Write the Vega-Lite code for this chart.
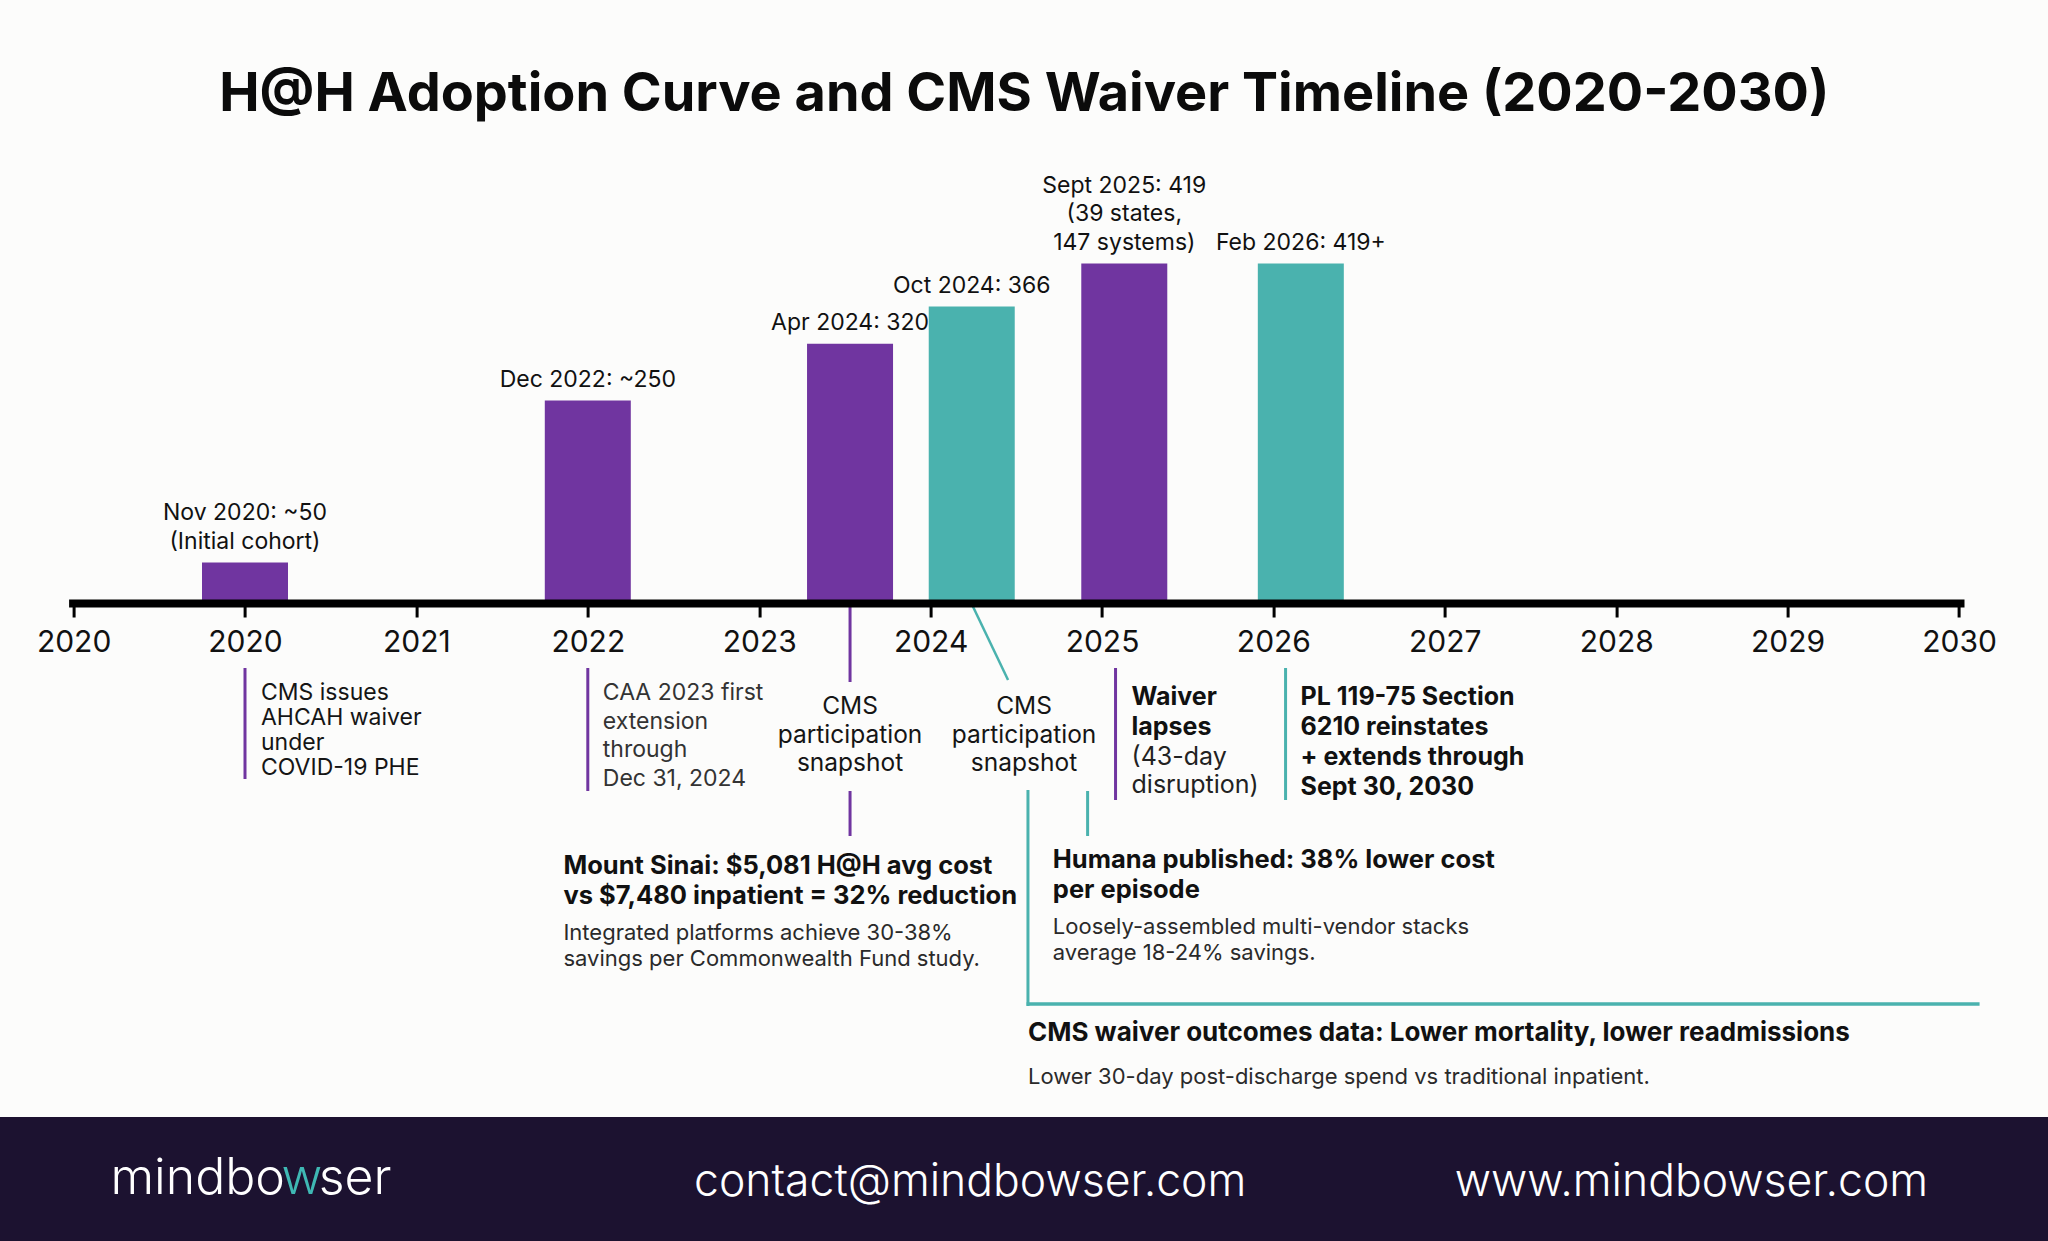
{
  "$schema": "https://vega.github.io/schema/vega-lite/v6.json",
  "width": 1895.4,
  "height": 445.5,
  "autosize": {"type": "none"},
  "padding": {"left": 68.6, "right": 84, "top": 157.5, "bottom": 638},
  "background": "#fcfcfb",
  "title": {
    "text": "H@H Adoption Curve and CMS Waiver Timeline (2020-2030)",
    "font": "Inter",
    "fontSize": 54,
    "fontWeight": 700,
    "color": "#0b0b0b",
    "anchor": "middle",
    "frame": "group",
    "baseline": "alphabetic",
    "offset": -7,
    "dx": 8
  },
  "config": {
    "view": {"stroke": null},
    "text": {"font": "Inter", "lineBreak": "\n"},
    "axisY": {"disable": true}
  },
  "layer": [
    {
      "description": "brand footer band",
      "data": {"values": [{"band": "footer"}]},
      "mark": {"type": "rect", "color": "#1c1230", "yOffset": 514, "y2Offset": 640},
      "encoding": {
        "x": {"datum": 2018.4, "type": "quantitative"},
        "x2": {"datum": 2030.7},
        "y": {"datum": 0, "type": "quantitative"},
        "y2": {"datum": 0}
      }
    },
    {
      "description": "hospital-at-home participation counts",
      "data": {"name": "counts", "values": [
        {"when": "Nov 2020", "pos": 2020.0, "hospitals": 50, "group": "primary", "label": "Nov 2020: ~50\n(Initial cohort)"},
        {"when": "Dec 2022", "pos": 2022.0, "hospitals": 250, "group": "primary", "label": "Dec 2022: ~250"},
        {"when": "Apr 2024", "pos": 2023.53, "hospitals": 320, "group": "primary", "label": "Apr 2024: 320"},
        {"when": "Oct 2024", "pos": 2024.24, "hospitals": 366, "group": "secondary", "label": "Oct 2024: 366"},
        {"when": "Sept 2025", "pos": 2025.13, "hospitals": 419, "group": "primary", "label": "Sept 2025: 419\n(39 states,\n147 systems)"},
        {"when": "Feb 2026", "pos": 2026.16, "hospitals": 419, "group": "secondary", "label": "Feb 2026: 419+"}
      ]},
      "layer": [
        {
          "mark": {"type": "bar", "size": 86},
          "encoding": {
            "x": {
              "field": "pos",
              "type": "quantitative",
              "scale": {"domain": [2019, 2030], "nice": false, "zero": false},
              "axis": {
                "title": null,
                "values": [2019, 2020, 2021, 2022, 2023, 2024, 2025, 2026, 2027, 2028, 2029, 2030],
                "format": "d",
                "labelExpr": "datum.value == 2019 ? '2020' : datum.label",
                "domainColor": "#000000",
                "domainWidth": 8,
                "domainCap": "butt",
                "tickColor": "#000000",
                "tickWidth": 3,
                "tickSize": 14,
                "labelFont": "Inter",
                "labelFontSize": 30,
                "labelColor": "#111111",
                "labelPadding": 10,
                "labelFlush": false,
                "labelOverlap": false,
                "labelBound": false,
                "grid": false,
                "zindex": 1
              }
            },
            "y": {
              "field": "hospitals",
              "type": "quantitative",
              "scale": {"domain": [0, 550], "nice": false},
              "axis": null
            },
            "color": {
              "field": "group",
              "type": "nominal",
              "scale": {"domain": ["primary", "secondary"], "range": ["#7035a0", "#4ab2ae"]},
              "legend": null
            }
          }
        },
        {
          "transform": [{"filter": "length(split(datum.label, '\\n')) == 1"}],
          "mark": {"type": "text", "align": "center", "baseline": "bottom", "dy": -9, "fontSize": 23, "lineHeight": 28.5, "color": "#111111"},
          "encoding": {
            "x": {"field": "pos", "type": "quantitative"},
            "y": {"field": "hospitals", "type": "quantitative"},
            "text": {"field": "label"}
          }
        },
        {
          "transform": [{"filter": "length(split(datum.label, '\\n')) == 2"}],
          "mark": {"type": "text", "align": "center", "baseline": "bottom", "dy": -38, "fontSize": 23, "lineHeight": 29, "color": "#111111"},
          "encoding": {
            "x": {"field": "pos", "type": "quantitative"},
            "y": {"field": "hospitals", "type": "quantitative"},
            "text": {"field": "label"}
          }
        },
        {
          "transform": [{"filter": "length(split(datum.label, '\\n')) == 3"}],
          "mark": {"type": "text", "align": "center", "baseline": "bottom", "dy": -66, "fontSize": 23, "lineHeight": 28.5, "color": "#111111"},
          "encoding": {
            "x": {"field": "pos", "type": "quantitative"},
            "y": {"field": "hospitals", "type": "quantitative"},
            "text": {"field": "label"}
          }
        }
      ]
    },
    {
      "description": "connector: 2020 waiver note",
      "data": {"values": [{"pos": 2020.0, "group": "primary"}]},
      "mark": {"type": "rule", "strokeWidth": 3, "yOffset": 65, "y2Offset": 176},
      "encoding": {"x": {"field": "pos", "type": "quantitative"}, "y": {"datum": 0, "type": "quantitative"}, "y2": {"datum": 0}, "color": {"field": "group", "type": "nominal"}}
    },
    {
      "description": "connector: CAA 2023 note",
      "data": {"values": [{"pos": 2022.0, "group": "primary"}]},
      "mark": {"type": "rule", "strokeWidth": 3, "yOffset": 65, "y2Offset": 188},
      "encoding": {"x": {"field": "pos", "type": "quantitative"}, "y": {"datum": 0, "type": "quantitative"}, "y2": {"datum": 0}, "color": {"field": "group", "type": "nominal"}}
    },
    {
      "description": "connectors: 2025 lapse and 2026 reinstatement notes",
      "data": {"values": [{"pos": 2025.079, "group": "primary"}, {"pos": 2026.071, "group": "secondary"}]},
      "mark": {"type": "rule", "strokeWidth": 3, "yOffset": 65, "y2Offset": 197},
      "encoding": {"x": {"field": "pos", "type": "quantitative"}, "y": {"datum": 0, "type": "quantitative"}, "y2": {"datum": 0}, "color": {"field": "group", "type": "nominal"}}
    },
    {
      "description": "connector: Apr 2024 bar to snapshot note",
      "data": {"values": [{"pos": 2023.53, "group": "primary"}]},
      "mark": {"type": "rule", "strokeWidth": 3, "yOffset": 4, "y2Offset": 79},
      "encoding": {"x": {"field": "pos", "type": "quantitative"}, "y": {"datum": 0, "type": "quantitative"}, "y2": {"datum": 0}, "color": {"field": "group", "type": "nominal"}}
    },
    {
      "description": "connector: Oct 2024 bar to snapshot note",
      "data": {"values": [{"pos": 2024.24, "pos2": 2024.452, "group": "secondary"}]},
      "mark": {"type": "rule", "strokeWidth": 2.5, "yOffset": 1, "y2Offset": 77},
      "encoding": {"x": {"field": "pos", "type": "quantitative"}, "x2": {"field": "pos2"}, "y": {"datum": 0, "type": "quantitative"}, "y2": {"datum": 0}, "color": {"field": "group", "type": "nominal"}}
    },
    {
      "description": "connectors: snapshots to cost findings",
      "data": {"values": [{"pos": 2023.53, "group": "primary"}, {"pos": 2024.916, "group": "secondary"}]},
      "mark": {"type": "rule", "strokeWidth": 3, "yOffset": 188, "y2Offset": 233},
      "encoding": {"x": {"field": "pos", "type": "quantitative"}, "y": {"datum": 0, "type": "quantitative"}, "y2": {"datum": 0}, "color": {"field": "group", "type": "nominal"}}
    },
    {
      "description": "bracket: outcomes data span",
      "data": {"values": [{"pos": 2024.568, "group": "secondary"}]},
      "mark": {"type": "rule", "strokeWidth": 3, "yOffset": 187, "y2Offset": 403},
      "encoding": {"x": {"field": "pos", "type": "quantitative"}, "y": {"datum": 0, "type": "quantitative"}, "y2": {"datum": 0}, "color": {"field": "group", "type": "nominal"}}
    },
    {
      "description": "bracket: outcomes data baseline",
      "data": {"values": [{"pos": 2024.56, "pos2": 2030.12, "group": "secondary"}]},
      "mark": {"type": "rule", "strokeWidth": 3.5, "yOffset": 401},
      "encoding": {"x": {"field": "pos", "type": "quantitative"}, "x2": {"field": "pos2"}, "y": {"datum": 0, "type": "quantitative"}, "color": {"field": "group", "type": "nominal"}}
    },
    {
      "description": "note: 2020 waiver",
      "data": {"values": [{"pos": 2020.0, "note": "CMS issues\nAHCAH waiver\nunder\nCOVID-19 PHE"}]},
      "mark": {"type": "text", "align": "left", "baseline": "alphabetic", "dx": 16, "dy": 97, "fontSize": 23, "lineHeight": 25, "color": "#151515"},
      "encoding": {"x": {"field": "pos", "type": "quantitative"}, "y": {"datum": 0, "type": "quantitative"}, "text": {"field": "note"}}
    },
    {
      "description": "note: CAA 2023",
      "data": {"values": [{"pos": 2022.0, "note": "CAA 2023 first\nextension\nthrough\nDec 31, 2024"}]},
      "mark": {"type": "text", "align": "left", "baseline": "alphabetic", "dx": 15, "dy": 97, "fontSize": 23, "lineHeight": 28.7, "color": "#333333"},
      "encoding": {"x": {"field": "pos", "type": "quantitative"}, "y": {"datum": 0, "type": "quantitative"}, "text": {"field": "note"}}
    },
    {
      "description": "notes: participation snapshots",
      "data": {"values": [{"pos": 2023.53, "note": "CMS\nparticipation\nsnapshot"}, {"pos": 2024.545, "note": "CMS\nparticipation\nsnapshot"}]},
      "mark": {"type": "text", "align": "center", "baseline": "alphabetic", "dy": 111, "fontSize": 24.5, "lineHeight": 28.5, "color": "#151515"},
      "encoding": {"x": {"field": "pos", "type": "quantitative"}, "y": {"datum": 0, "type": "quantitative"}, "text": {"field": "note"}}
    },
    {
      "description": "note: waiver lapse headline",
      "data": {"values": [{"pos": 2025.079, "note": "Waiver\nlapses"}]},
      "mark": {"type": "text", "align": "left", "baseline": "alphabetic", "dx": 16, "dy": 102, "fontSize": 25, "fontWeight": 700, "lineHeight": 30, "color": "#111111"},
      "encoding": {"x": {"field": "pos", "type": "quantitative"}, "y": {"datum": 0, "type": "quantitative"}, "text": {"field": "note"}}
    },
    {
      "description": "note: waiver lapse detail",
      "data": {"values": [{"pos": 2025.079, "note": "(43-day\ndisruption)"}]},
      "mark": {"type": "text", "align": "left", "baseline": "alphabetic", "dx": 16, "dy": 162, "fontSize": 25, "lineHeight": 28, "color": "#222222"},
      "encoding": {"x": {"field": "pos", "type": "quantitative"}, "y": {"datum": 0, "type": "quantitative"}, "text": {"field": "note"}}
    },
    {
      "description": "note: PL 119-75 reinstatement",
      "data": {"values": [{"pos": 2026.071, "note": "PL 119-75 Section\n6210 reinstates\n+ extends through\nSept 30, 2030"}]},
      "mark": {"type": "text", "align": "left", "baseline": "alphabetic", "dx": 15, "dy": 102, "fontSize": 25, "fontWeight": 700, "lineHeight": 30, "color": "#111111"},
      "encoding": {"x": {"field": "pos", "type": "quantitative"}, "y": {"datum": 0, "type": "quantitative"}, "text": {"field": "note"}}
    },
    {
      "description": "finding: Mount Sinai",
      "data": {"values": [{"pos": 2021.858, "note": "Mount Sinai: $5,081 H@H avg cost\nvs $7,480 inpatient = 32% reduction"}]},
      "mark": {"type": "text", "align": "left", "baseline": "alphabetic", "dy": 271, "fontSize": 25.5, "fontWeight": 700, "lineHeight": 30, "color": "#111111"},
      "encoding": {"x": {"field": "pos", "type": "quantitative"}, "y": {"datum": 0, "type": "quantitative"}, "text": {"field": "note"}}
    },
    {
      "description": "finding: Mount Sinai detail",
      "data": {"values": [{"pos": 2021.858, "note": "Integrated platforms achieve 30-38%\nsavings per Commonwealth Fund study."}]},
      "mark": {"type": "text", "align": "left", "baseline": "alphabetic", "dy": 337, "fontSize": 22, "lineHeight": 26, "color": "#2a2a2a"},
      "encoding": {"x": {"field": "pos", "type": "quantitative"}, "y": {"datum": 0, "type": "quantitative"}, "text": {"field": "note"}}
    },
    {
      "description": "finding: Humana",
      "data": {"values": [{"pos": 2024.713, "note": "Humana published: 38% lower cost\nper episode"}]},
      "mark": {"type": "text", "align": "left", "baseline": "alphabetic", "dy": 265, "fontSize": 25.5, "fontWeight": 700, "lineHeight": 30, "color": "#111111"},
      "encoding": {"x": {"field": "pos", "type": "quantitative"}, "y": {"datum": 0, "type": "quantitative"}, "text": {"field": "note"}}
    },
    {
      "description": "finding: Humana detail",
      "data": {"values": [{"pos": 2024.713, "note": "Loosely-assembled multi-vendor stacks\naverage 18-24% savings."}]},
      "mark": {"type": "text", "align": "left", "baseline": "alphabetic", "dy": 331, "fontSize": 22, "lineHeight": 26, "color": "#2a2a2a"},
      "encoding": {"x": {"field": "pos", "type": "quantitative"}, "y": {"datum": 0, "type": "quantitative"}, "text": {"field": "note"}}
    },
    {
      "description": "finding: CMS outcomes",
      "data": {"values": [{"pos": 2024.568, "note": "CMS waiver outcomes data: Lower mortality, lower readmissions"}]},
      "mark": {"type": "text", "align": "left", "baseline": "alphabetic", "dy": 438, "fontSize": 26, "fontWeight": 700, "color": "#111111"},
      "encoding": {"x": {"field": "pos", "type": "quantitative"}, "y": {"datum": 0, "type": "quantitative"}, "text": {"field": "note"}}
    },
    {
      "description": "finding: CMS outcomes detail",
      "data": {"values": [{"pos": 2024.568, "note": "Lower 30-day post-discharge spend vs traditional inpatient."}]},
      "mark": {"type": "text", "align": "left", "baseline": "alphabetic", "dy": 481, "fontSize": 22, "color": "#2a2a2a"},
      "encoding": {"x": {"field": "pos", "type": "quantitative"}, "y": {"datum": 0, "type": "quantitative"}, "text": {"field": "note"}}
    },
    {
      "description": "footer contact details",
      "data": {"values": [{"pos": 2024.231, "item": "contact@mindbowser.com"}, {"pos": 2028.439, "item": "www.mindbowser.com"}]},
      "mark": {"type": "text", "align": "center", "baseline": "alphabetic", "dy": 593, "fontSize": 44.5, "fontWeight": 300, "color": "#ffffff"},
      "encoding": {"x": {"field": "pos", "type": "quantitative"}, "y": {"datum": 0, "type": "quantitative"}, "text": {"field": "item"}}
    },
    {
      "description": "footer wordmark, first part",
      "data": {"values": [{"pos": 2020.2333, "item": "mindbo"}]},
      "mark": {"type": "text", "align": "right", "baseline": "alphabetic", "dy": 591, "fontSize": 50, "fontWeight": 300, "color": "#ffffff"},
      "encoding": {"x": {"field": "pos", "type": "quantitative"}, "y": {"datum": 0, "type": "quantitative"}, "text": {"field": "item"}}
    },
    {
      "description": "footer wordmark, accent letter",
      "data": {"values": [{"pos": 2020.3319, "item": "w"}]},
      "mark": {"type": "text", "align": "center", "baseline": "alphabetic", "dy": 591, "fontSize": 50, "fontWeight": 300, "color": "#3fb8b4"},
      "encoding": {"x": {"field": "pos", "type": "quantitative"}, "y": {"datum": 0, "type": "quantitative"}, "text": {"field": "item"}}
    },
    {
      "description": "footer wordmark, last part",
      "data": {"values": [{"pos": 2020.4306, "item": "ser"}]},
      "mark": {"type": "text", "align": "left", "baseline": "alphabetic", "dy": 591, "fontSize": 50, "fontWeight": 300, "color": "#ffffff"},
      "encoding": {"x": {"field": "pos", "type": "quantitative"}, "y": {"datum": 0, "type": "quantitative"}, "text": {"field": "item"}}
    }
  ]
}
